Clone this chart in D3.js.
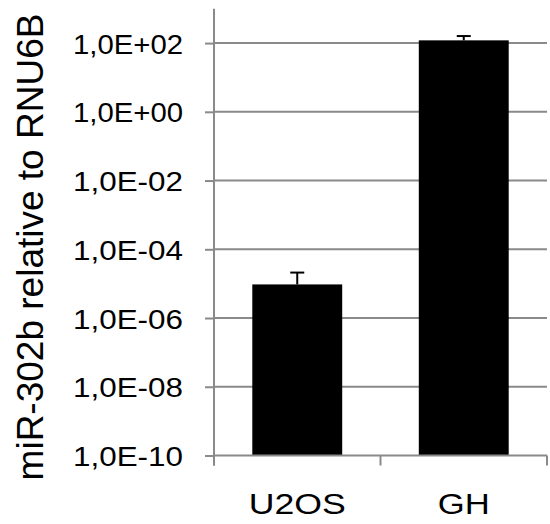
<!DOCTYPE html>
<html>
<head>
<meta charset="utf-8">
<script src="https://cdn.jsdelivr.net/npm/d3@7"></script>
<style>
  html, body { margin: 0; padding: 0; background: #fff; }
  svg { display: block; font-family: "Liberation Sans", Arial, sans-serif; }
</style>
</head>
<body>
<svg id="chart" width="550" height="524"></svg>
<script>
// Expression of miR-302b (relative to RNU6B), log scale
const categories = ["U2OS", "GH"];
const values = [9.5e-6, 120];
const errors = [1.15e-5, 40];
const tickValues = [1e-10, 1e-8, 1e-6, 1e-4, 1e-2, 1e0, 1e2];
const tickLabels = ["1,0E-10", "1,0E-08", "1,0E-06", "1,0E-04", "1,0E-02", "1,0E+00", "1,0E+02"];
const yTitle = "miR-302b relative to RNU6B";

const svg = d3.select("#chart");
const plotL = 214, plotR = 547, plotT = 8.7, plotB = 455.5;
const grey = "#8a8a8a";

const x = d3.scaleBand().domain(categories).range([plotL, plotR]).padding(0);
const y = d3.scaleLog().domain([1e-10, 1e3]).range([plotB, plotT]);

// horizontal gridlines
svg.append("g").selectAll("line").data(tickValues.slice(1)).join("line")
  .attr("x1", plotL).attr("x2", plotR)
  .attr("y1", d => y(d)).attr("y2", d => y(d))
  .attr("stroke", grey).attr("stroke-width", 2);

// bars
const barW = x.bandwidth() * 0.54;
svg.append("g").selectAll("rect").data(categories).join("rect")
  .attr("x", d => x(d) + (x.bandwidth() - barW) / 2)
  .attr("width", barW)
  .attr("y", (d, i) => y(values[i]))
  .attr("height", (d, i) => plotB - y(values[i]))
  .attr("fill", "#000");

// error bars (upper)
const eb = svg.append("g").attr("stroke", "#000").attr("stroke-width", 2);
categories.forEach((c, i) => {
  const cx = x(c) + x.bandwidth() / 2;
  const yt = y(values[i] + errors[i]);
  eb.append("line").attr("x1", cx).attr("x2", cx).attr("y1", y(values[i])).attr("y2", yt);
  eb.append("line").attr("x1", cx - 7).attr("x2", cx + 7).attr("y1", yt).attr("y2", yt);
});

// y axis
const yAxis = d3.axisLeft(y).tickValues(tickValues)
  .tickFormat((d, i) => tickLabels[i]).tickSize(9).tickPadding(22);
const gy = svg.append("g").attr("transform", `translate(${plotL},0)`).call(yAxis);
gy.select(".domain").attr("stroke", grey).attr("stroke-width", 2).attr("d", `M0,${plotT}V${plotB + 10}`);
gy.selectAll(".tick line").attr("stroke", grey).attr("stroke-width", 2);
gy.selectAll(".tick text").attr("fill", "#000")
  .style("font-size", "28px").attr("dy", "0.36em")
  .attr("textLength", 110).attr("lengthAdjust", "spacingAndGlyphs");

// x axis
const gx = svg.append("g").attr("transform", `translate(0,${plotB})`);
gx.append("path").attr("fill", "none").attr("stroke", grey).attr("stroke-width", 2)
  .attr("d", `M${plotL},0H${plotR}`);
gx.selectAll("line").data([plotL, plotL + x.step(), plotR]).join("line")
  .attr("x1", d => d).attr("x2", d => d).attr("y1", 0).attr("y2", 10)
  .attr("stroke", grey).attr("stroke-width", 2);

// category labels
const labW = { "U2OS": 97, "GH": 52 };
svg.append("g").selectAll("text").data(categories).join("text")
  .attr("x", d => x(d) + x.bandwidth() / 2)
  .attr("y", 514)
  .attr("text-anchor", "middle")
  .style("font-size", "30px")
  .attr("textLength", d => labW[d]).attr("lengthAdjust", "spacingAndGlyphs")
  .text(d => d);

// y axis title
svg.append("text")
  .attr("transform", `translate(43,247) rotate(-90)`)
  .attr("text-anchor", "middle")
  .style("font-size", "37px")
  .text(yTitle);
</script>
</body>
</html>
